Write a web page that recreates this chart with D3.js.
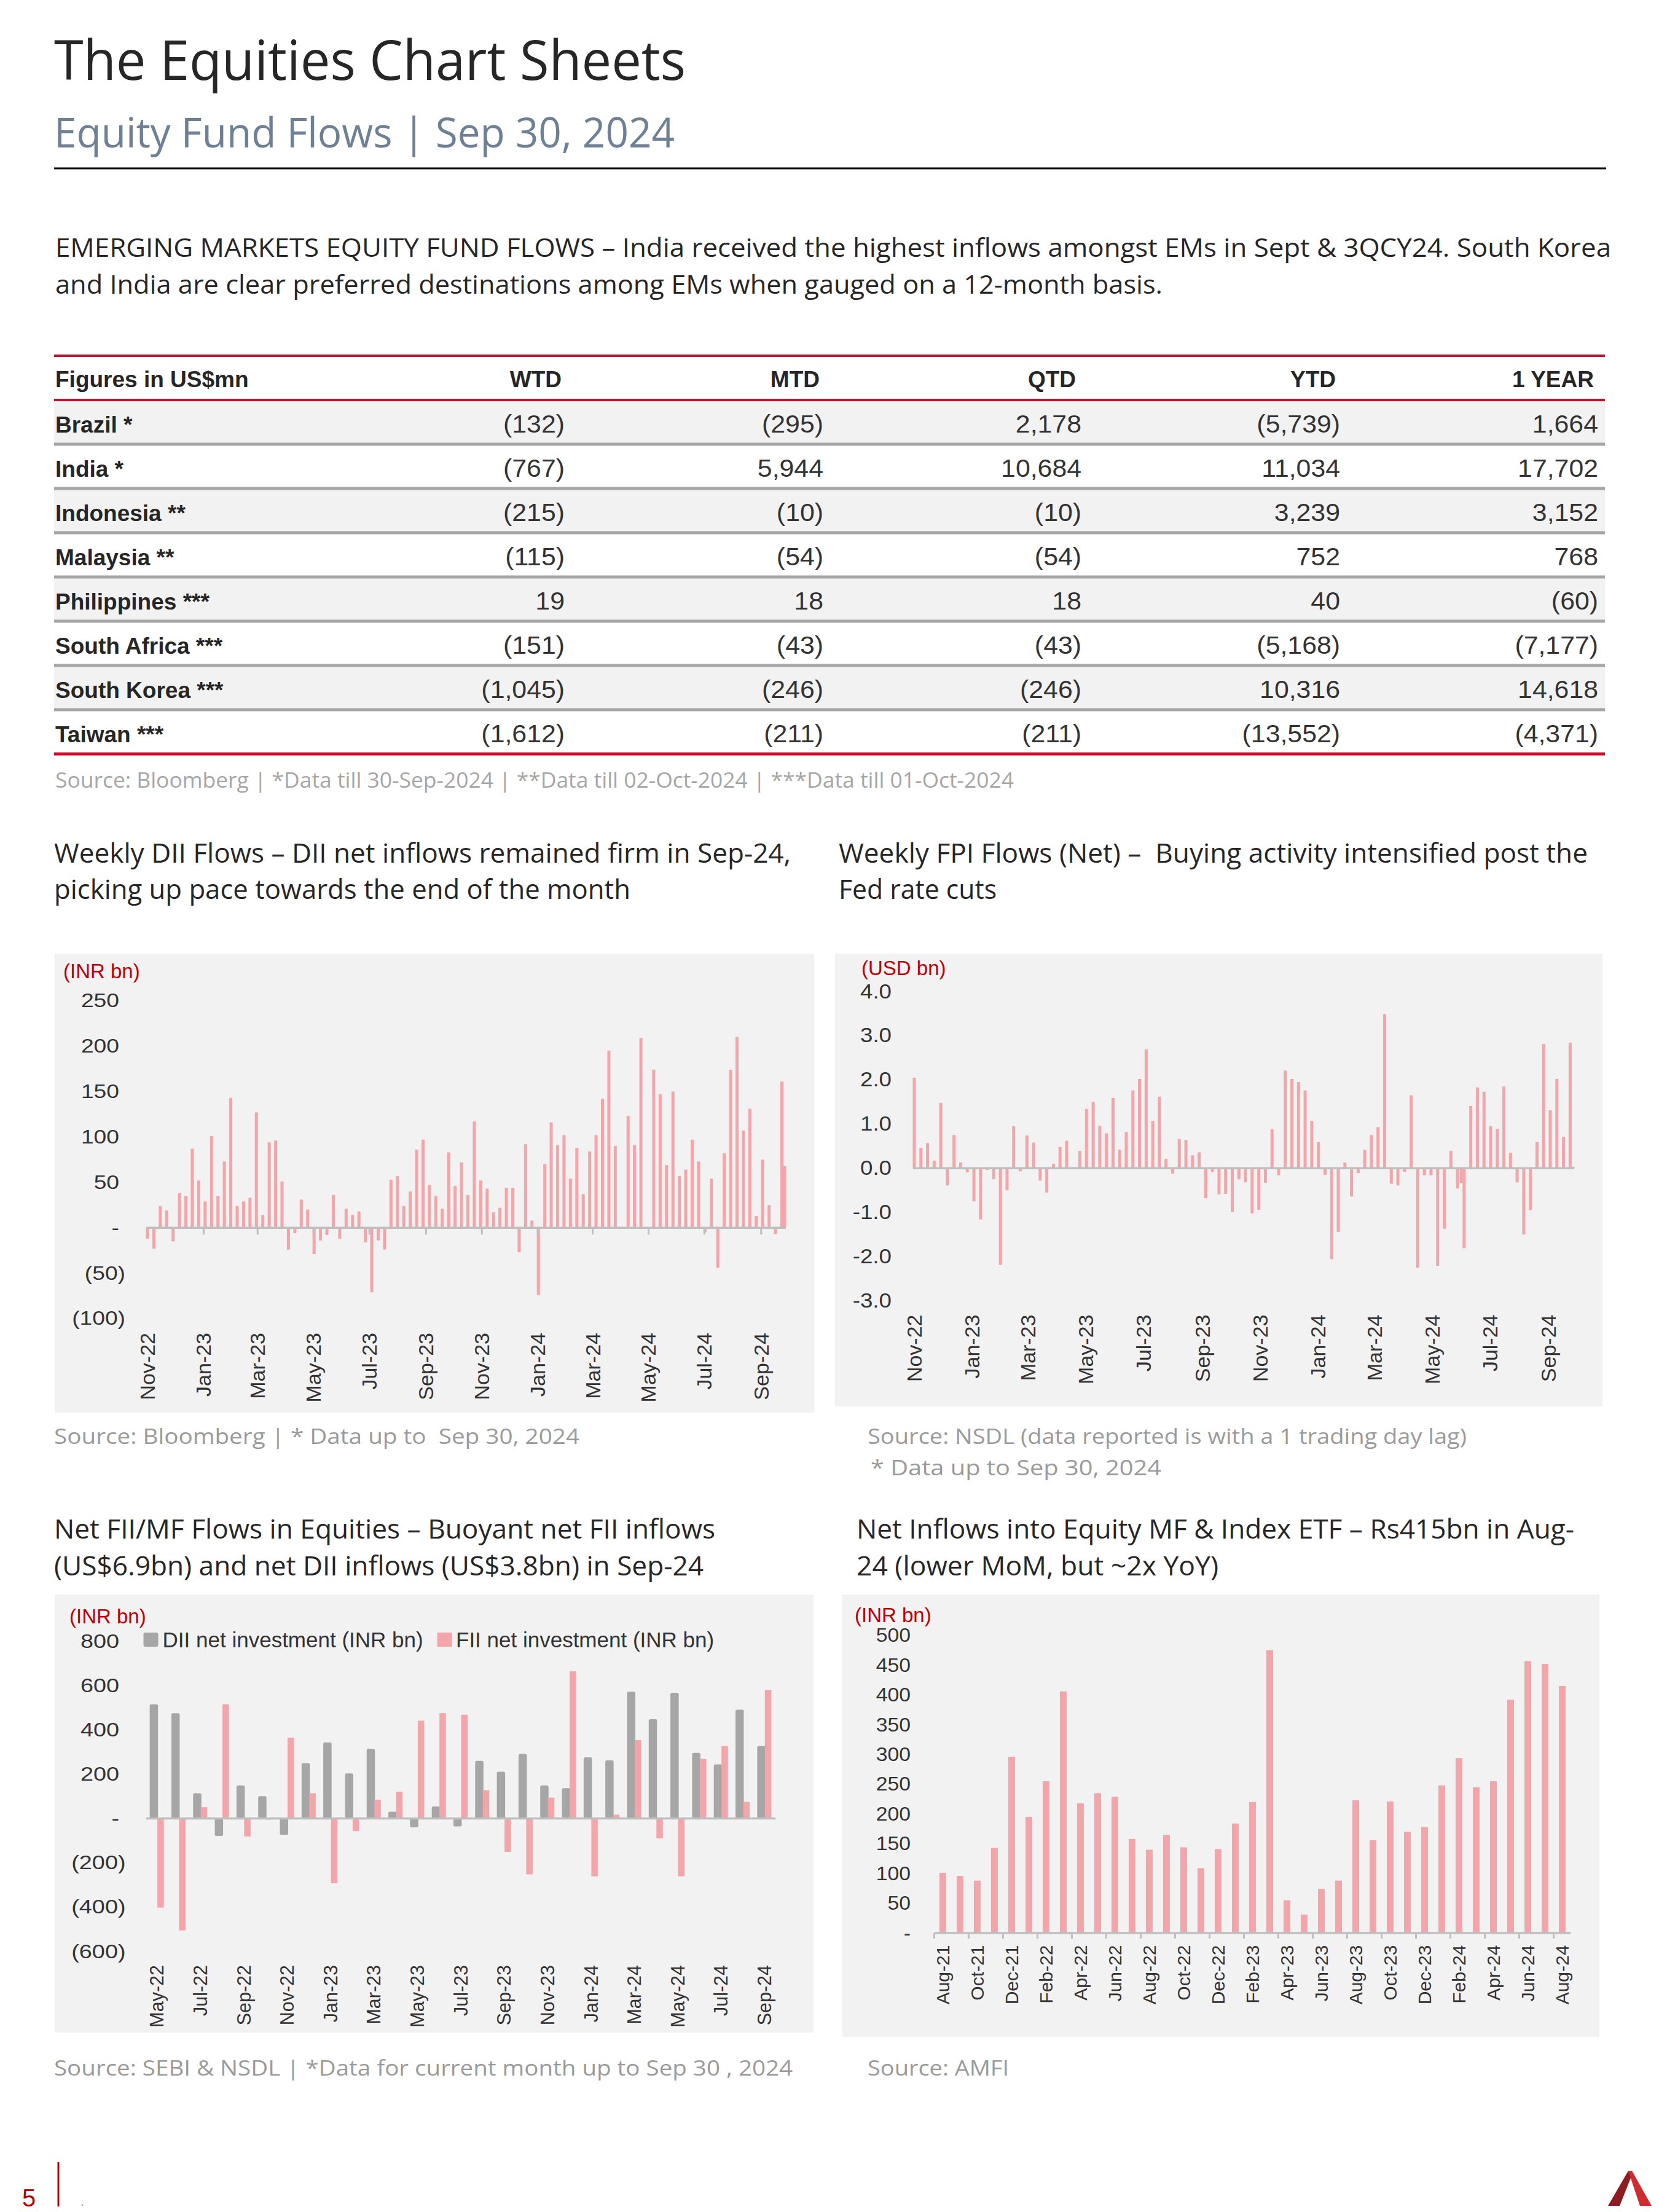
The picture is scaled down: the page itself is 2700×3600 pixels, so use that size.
<!DOCTYPE html>
<html>
<head>
<meta charset="utf-8">
<title>Equity Fund Flows</title>
<script src="https://cdn.jsdelivr.net/npm/d3@7/dist/d3.min.js"></script>
<style>
  body { margin: 0; background: #fff; }
  text { white-space: pre; }
</style>
</head>
<body>
<script>
// ---------- data ----------
var tableColumns = ["WTD", "MTD", "QTD", "YTD", "1 YEAR"];
var tableRows = ["Brazil *", "India *", "Indonesia **", "Malaysia **", "Philippines ***",
                 "South Africa ***", "South Korea ***", "Taiwan ***"];
var tableValues = [
    [-132, -295, 2178, -5739, 1664],
    [-767, 5944, 10684, 11034, 17702],
    [-215, -10, -10, 3239, 3152],
    [-115, -54, -54, 752, 768],
    [19, 18, 18, 40, -60],
    [-151, -43, -43, -5168, -7177],
    [-1045, -246, -246, 10316, 14618],
    [-1612, -211, -211, -13552, -4371]
];

// weekly series: Fridays from 4-Nov-22 to 27-Sep-24 plus the odd extra dates
var weeklyFirstFriday = "2022-11-04";
var weeklyLastFriday = "2024-09-27";
var diiExtraDates = ["2024-09-30"];
var fpiExtraDates = ["2024-06-04", "2024-09-30"];
var weeklyTickLabels = ["Nov-22", "Jan-23", "Mar-23", "May-23", "Jul-23", "Sep-23",
                        "Nov-23", "Jan-24", "Mar-24", "May-24", "Jul-24", "Sep-24"];

var diiWeeklyValues = [
    -12, -23, 24, 19, -15, 38, 35, 87, 52, 29,
    101, 35, 73, 143, 24, 29, 33, 127, 14, 94,
    96, 51, -24, -6, 31, 20, -29, -14, -8, 36,
    -12, 21, 14, 18, -16, -71, -14, -24, 53, 57,
    24, 40, 86, 97, 47, 35, 21, 83, 46, 72,
    36, 117, 52, 43, 17, 22, 44, 44, -27, 92,
    8, -74, 70, 116, 91, 102, 54, 88, 37, 84,
    102, 142, 195, 90, 1, 123, 91, 209, 0, 174,
    147, 69, 150, 57, 64, 97, 73, -5, 54, -44,
    82, 174, 210, 107, 131, 13, 75, 25, -7, 161,
    68
];

var fpiWeeklyValues = [
    2.05, 0.46, 0.57, 0.17, 1.48, -0.39, 0.75, 0.13, -0.09, -0.75,
    -1.16, -0.04, -0.25, -2.19, -0.50, 0.95, -0.07, 0.74, 0.58, -0.28,
    -0.55, 0.10, 0.48, 0.62, -0.02, 0.39, 1.34, 1.50, 0.96, 0.79,
    1.59, 0.42, 0.82, 1.76, 2.02, 2.69, 1.07, 1.62, 0.21, -0.12,
    0.66, 0.64, 0.29, 0.36, -0.68, -0.09, -0.59, -0.58, -0.99, -0.25,
    -0.32, -1.02, -0.94, -0.33, 0.88, -0.16, 2.21, 2.02, 1.95, 1.76,
    1.07, 0.59, -0.15, -2.06, -1.44, 0.13, -0.64, -0.11, 0.41, 0.75,
    0.93, 3.49, -0.35, -0.39, -0.08, 1.65, -2.25, -0.16, -0.16, -2.21,
    -1.37, 0.39, -0.46, -0.33, -1.81, 1.41, 1.83, 1.73, 0.95, 0.89,
    1.85, 0.35, -0.32, -1.50, -0.95, 0.59, 2.81, 1.31, 2.02, 0.71,
    2.84, 0.03
];

var flowMonths = ["May-22", "Jun-22", "Jul-22", "Aug-22", "Sep-22", "Oct-22", "Nov-22", "Dec-22",
                  "Jan-23", "Feb-23", "Mar-23", "Apr-23", "May-23", "Jun-23", "Jul-23", "Aug-23",
                  "Sep-23", "Oct-23", "Nov-23", "Dec-23", "Jan-24", "Feb-24", "Mar-24", "Apr-24",
                  "May-24", "Jun-24", "Jul-24", "Aug-24", "Sep-24"];
var diiMonthly = [515, 475, 114, -79, 149, 101, -73, 250, 343, 203, 314, 31, -40, 54, -36, 260,
                  211, 291, 149, 137, 276, 262, 572, 448, 567, 296, 244, 491, 327];
var fiiMonthly = [-402, -505, 51, 515, -81, -5, 365, 114, -292, -57, 85, 121, 441, 475, 468, 128,
                  -151, -252, 94, 664, -261, 17, 354, -90, -261, 269, 327, 75, 580];
var flowLegend = ["DII net investment (INR bn)", "FII net investment (INR bn)"];

var mfMonths = ["Aug-21", "Sep-21", "Oct-21", "Nov-21", "Dec-21", "Jan-22", "Feb-22", "Mar-22",
                "Apr-22", "May-22", "Jun-22", "Jul-22", "Aug-22", "Sep-22", "Oct-22", "Nov-22",
                "Dec-22", "Jan-23", "Feb-23", "Mar-23", "Apr-23", "May-23", "Jun-23", "Jul-23",
                "Aug-23", "Sep-23", "Oct-23", "Nov-23", "Dec-23", "Jan-24", "Feb-24", "Mar-24",
                "Apr-24", "May-24", "Jun-24", "Jul-24", "Aug-24"];
var mfInflows = [101, 96, 88, 143, 296, 195, 255, 406, 218, 235, 229, 158, 140, 165, 144, 109,
                 141, 184, 220, 475, 55, 31, 74, 88, 223, 156, 221, 170, 178, 248, 294, 245,
                 255, 392, 457, 452, 415];

var diiYTicks = [-100, -50, 0, 50, 100, 150, 200, 250];
var fpiYTicks = [-3, -2, -1, 0, 1, 2, 3, 4];
var flowYTicks = [-600, -400, -200, 0, 200, 400, 600, 800];
var mfYTicks = [0, 50, 100, 150, 200, 250, 300, 350, 400, 450, 500];

// ---------- page ----------
var SANS = "'Liberation Sans', Arial, sans-serif";
var BODY = "'Open Sans', 'Noto Sans', sans-serif";
var PINK = "#F4A5A9", GREYBAR = "#A6A6A6", AXIS = "#BFBFBF", RED = "#C00000", PANEL = "#F2F2F2";

var svg = d3.select("body").append("svg")
    .attr("width", 2700).attr("height", 3600).style("display", "block");
svg.append("rect").attr("width", 2700).attr("height", 3600).attr("fill", "#fff");

function addText(g, o) {
    var t = g.append("text")
        .attr("x", o.x).attr("y", o.y)
        .attr("font-family", o.font || BODY)
        .attr("font-size", o.size)
        .attr("fill", o.fill || "#262626")
        .attr("text-anchor", o.anchor || "start")
        .text(o.text);
    if (o.weight) t.attr("font-weight", o.weight);
    if (o.width) t.attr("textLength", o.width).attr("lengthAdjust", "spacingAndGlyphs");
    return t;
}

function stretchText(sel, k) {
    sel.each(function () {
        var w = this.getComputedTextLength();
        d3.select(this).attr("textLength", w * k).attr("lengthAdjust", "spacingAndGlyphs");
    });
}

function paren(v) {
    if (v === 0) return "-";
    return v < 0 ? "(" + d3.format(",")(-v) + ")" : d3.format(",")(v);
}
function oneDecimal(v) {
    return (v < 0 ? "-" : "") + Math.abs(v).toFixed(1);
}

// header
addText(svg, {x: 88, y: 130, size: 90, text: "The Equities Chart Sheets", width: 1028});
addText(svg, {x: 88, y: 240, size: 67, fill: "#6E8096", text: "Equity Fund Flows | Sep 30, 2024", width: 1010});
svg.append("line").attr("x1", 88).attr("x2", 2614).attr("y1", 274).attr("y2", 274)
    .attr("stroke", "#000").attr("stroke-width", 3);

addText(svg, {x: 90, y: 418, size: 42, width: 2532,
    text: "EMERGING MARKETS EQUITY FUND FLOWS – India received the highest inflows amongst EMs in Sept & 3QCY24. South Korea"});
addText(svg, {x: 90, y: 478, size: 42, width: 1802,
    text: "and India are clear preferred destinations among EMs when gauged on a 12-month basis."});

// ---------- table ----------
(function drawTable() {
    var g = svg.append("g");
    var left = 88, right = 2612;
    var numRight = [919, 1340, 1760, 2181, 2601];
    var headRight = [914, 1334, 1751, 2174, 2594];
    var rowY = d3.scaleBand().domain(tableRows).range([651, 651 + 72 * tableRows.length]);

    g.selectAll(".rowbg").data(tableRows.filter(function (d, i) { return i % 2 === 0; }))
        .enter().append("rect")
        .attr("x", left).attr("width", right - left)
        .attr("y", function (d) { return rowY(d); })
        .attr("height", rowY.bandwidth())
        .attr("fill", PANEL);

    g.selectAll(".sep").data(tableRows.slice(0, -1))
        .enter().append("line")
        .attr("x1", left).attr("x2", right)
        .attr("y1", function (d) { return rowY(d) + rowY.bandwidth(); })
        .attr("y2", function (d) { return rowY(d) + rowY.bandwidth(); })
        .attr("stroke", "#A6A6A6").attr("stroke-width", 5);

    [[579, 4], [651, 4], [651 + 72 * tableRows.length, 5]].forEach(function (l) {
        g.append("line").attr("x1", left).attr("x2", right).attr("y1", l[0]).attr("y2", l[0])
            .attr("stroke", "#C8102E").attr("stroke-width", l[1]);
    });

    addText(g, {x: 90, y: 630, size: 37, font: SANS, weight: "bold", text: "Figures in US$mn"});
    tableColumns.forEach(function (c, j) {
        addText(g, {x: headRight[j], y: 630, size: 37, font: SANS, weight: "bold", anchor: "end", text: c});
    });

    tableRows.forEach(function (r, i) {
        var base = rowY(r) + 53;
        addText(g, {x: 90, y: base, size: 37, font: SANS, weight: "bold", text: r});
        tableValues[i].forEach(function (v, j) {
            var t = addText(g, {x: numRight[j], y: base, size: 40, font: SANS, anchor: "end",
                fill: "#333", text: paren(v)});
            stretchText(t, 1.07);
        });
    });

    addText(g, {x: 90, y: 1282, size: 34, fill: "#A6A6A6", width: 1560,
        text: "Source: Bloomberg | *Data till 30-Sep-2024 | **Data till 02-Oct-2024 | ***Data till 01-Oct-2024"});
})();

// ---------- chart headings and sources ----------
[
    {x: 88, y: 1404, w: 1199, s: "Weekly DII Flows – DII net inflows remained firm in Sep-24,"},
    {x: 88, y: 1463, w: 938, s: "picking up pace towards the end of the month"},
    {x: 1365, y: 1404, w: 1219, s: "Weekly FPI Flows (Net) –  Buying activity intensified post the"},
    {x: 1365, y: 1463, w: 257, s: "Fed rate cuts"},
    {x: 88, y: 2504, w: 1076, s: "Net FII/MF Flows in Equities – Buoyant net FII inflows"},
    {x: 88, y: 2564, w: 1057, s: "(US$6.9bn) and net DII inflows (US$3.8bn) in Sep-24"},
    {x: 1394, y: 2504, w: 1168, s: "Net Inflows into Equity MF & Index ETF – Rs415bn in Aug-"},
    {x: 1394, y: 2564, w: 589, s: "24 (lower MoM, but ~2x YoY)"}
].forEach(function (h) {
    addText(svg, {x: h.x, y: h.y, size: 43, width: h.w, text: h.s});
});

[
    {x: 88, y: 2350, w: 855, s: "Source: Bloomberg | * Data up to  Sep 30, 2024"},
    {x: 1412, y: 2350, w: 975, s: "Source: NSDL (data reported is with a 1 trading day lag)"},
    {x: 1417, y: 2401, w: 473, s: "* Data up to Sep 30, 2024"},
    {x: 88, y: 3378, w: 1202, s: "Source: SEBI & NSDL | *Data for current month up to Sep 30 , 2024"},
    {x: 1412, y: 3378, w: 230, s: "Source: AMFI"}
].forEach(function (h) {
    addText(svg, {x: h.x, y: h.y, size: 34, fill: "#9A9A9A", width: h.w, text: h.s});
});

// ---------- chart helpers ----------
function drawFrame(c) {
    var g = svg.append("g");
    g.append("rect").attr("x", c.panel[0]).attr("y", c.panel[1])
        .attr("width", c.panel[2] - c.panel[0]).attr("height", c.panel[3] - c.panel[1])
        .attr("fill", PANEL);
    addText(g, {x: c.unitX, y: c.unitY, size: 33, font: SANS, fill: RED, text: c.unit});
    return g;
}

function drawYAxis(g, y, c) {
    var ya = g.append("g").attr("transform", "translate(" + c.yRight + ",0)")
        .call(d3.axisLeft(y).tickValues(c.yTicks).tickSize(0).tickPadding(0).tickFormat(c.yFormat));
    ya.select(".domain").remove();
    ya.attr("font-family", SANS).attr("font-size", c.yFont);
    ya.selectAll("text").attr("fill", "#333")
        .attr("x", function (d) { return d < 0 ? 0 : -c.posShift; });
    stretchText(ya.selectAll("text"), c.yStretch);
}

function drawXLabels(g, axis, c) {
    var xa = g.append("g").attr("transform", "translate(0," + c.labelTop + ")")
        .call(axis.tickSize(0).tickPadding(0));
    xa.select(".domain").remove();
    xa.attr("font-family", SANS).attr("font-size", c.labelFont);
    xa.selectAll("text")
        .attr("fill", "#333")
        .attr("transform", "rotate(-90)")
        .attr("x", 0).attr("y", 0).attr("dy", "0.35em")
        .style("text-anchor", "end");
}

function zeroLine(g, x0, x1, y0) {
    g.append("line").attr("x1", x0).attr("x2", x1).attr("y1", y0).attr("y2", y0)
        .attr("stroke", AXIS).attr("stroke-width", 3.5);
}

var parseDay = d3.timeParse("%Y-%m-%d");
var parseMonth = d3.timeParse("%b-%y");
var fridays = d3.timeFriday.range(parseDay(weeklyFirstFriday), d3.timeDay.offset(parseDay(weeklyLastFriday), 1));
var weeklyTickDates = weeklyTickLabels.map(function (m) { return d3.timeDay.offset(parseMonth(m), 3); });

function weeklyDates(extra) {
    return fridays.concat(extra.map(parseDay)).sort(d3.ascending);
}

function drawWeekly(c) {
    var g = drawFrame(c);
    var dates = weeklyDates(c.extra);
    var x = d3.scaleTime().domain([dates[0], dates[dates.length - 1]]).range(c.xRange);
    var y = d3.scaleLinear().domain(c.yDomain).range(c.yRange);
    var data = dates.map(function (d, i) { return {date: d, value: c.values[i]}; });

    g.selectAll(".bar").data(data).enter().append("rect")
        .attr("x", function (d) { return x(d.date) - 2.5; })
        .attr("width", 5)
        .attr("y", function (d) { return Math.min(y(d.value), y(0)); })
        .attr("height", function (d) { return Math.abs(y(d.value) - y(0)); })
        .attr("fill", PINK);

    zeroLine(g, c.xRange[0] - 2, c.xRange[1] + 2, y(0));
    if (c.tickLen) {
        var ta = g.append("g").attr("transform", "translate(0," + y(0) + ")")
            .call(d3.axisBottom(x).tickValues(weeklyTickDates.slice(1)).tickSize(c.tickLen).tickFormat(""));
        ta.select(".domain").remove();
        ta.selectAll("line").attr("stroke", AXIS).attr("stroke-width", 3);
    }
    drawYAxis(g, y, c);
    drawXLabels(g, d3.axisBottom(x).tickValues(weeklyTickDates)
        .tickFormat(function (d, i) { return weeklyTickLabels[i]; }), c);
}

// ---------- weekly DII ----------
drawWeekly({
    panel: [89, 1552, 1325, 2299], unit: "(INR bn)", unitX: 103, unitY: 1592,
    extra: diiExtraDates, values: diiWeeklyValues,
    xRange: [240, 1277], yDomain: [-100, 250], yRange: [2146, 1628.6],
    yTicks: diiYTicks, yFormat: paren, yRight: 204, posShift: 10, yFont: 31, yStretch: 1.2,
    labelTop: 2169, labelFont: 34, tickLen: 11
});

// ---------- weekly FPI ----------
drawWeekly({
    panel: [1359, 1552, 2608, 2289], unit: "(USD bn)", unitX: 1402, unitY: 1587,
    extra: fpiExtraDates, values: fpiWeeklyValues,
    xRange: [1488, 2560], yDomain: [-3, 4], yRange: [2117, 1613.6],
    yTicks: fpiYTicks, yFormat: oneDecimal, yRight: 1451, posShift: 0, yFont: 32.5, yStretch: 1.13,
    labelTop: 2139.5, labelFont: 34, tickLen: 0
});

// ---------- monthly FII / DII ----------
(function () {
    var c = {
        panel: [89, 2595, 1324, 3308], unit: "(INR bn)", unitX: 113, unitY: 2642,
        yTicks: flowYTicks, yFormat: paren, yRight: 204.5, posShift: 10.5, yFont: 31.5, yStretch: 1.2,
        labelTop: 3198, labelFont: 30.5
    };
    var g = drawFrame(c);
    var x = d3.scaleBand().domain(flowMonths).range([238, 1262]);
    var y = d3.scaleLinear().domain([-600, 800]).range([3176, 2671]);
    var mid = function (m) { return x(m) + x.bandwidth() / 2; };

    g.selectAll(".dii").data(flowMonths).enter().append("rect")
        .attr("x", function (m) { return mid(m) - 12; })
        .attr("width", 13.5)
        .attr("y", function (m, i) { return Math.min(y(diiMonthly[i]), y(0)); })
        .attr("height", function (m, i) { return Math.abs(y(diiMonthly[i]) - y(0)); })
        .attr("rx", 2.5)
        .attr("fill", GREYBAR);
    g.selectAll(".fii").data(flowMonths).enter().append("rect")
        .attr("x", function (m) { return mid(m) + 0.5; })
        .attr("width", 10.5)
        .attr("y", function (m, i) { return Math.min(y(fiiMonthly[i]), y(0)); })
        .attr("height", function (m, i) { return Math.abs(y(fiiMonthly[i]) - y(0)); })
        .attr("fill", PINK);

    zeroLine(g, x.range()[0], x.range()[1], y(0));
    drawYAxis(g, y, c);
    drawXLabels(g, d3.axisBottom(x).tickValues(flowMonths.filter(function (m, i) { return i % 2 === 0; })), c);

    // legend
    [[233.5, GREYBAR, 264.6], [711.6, PINK, 742]].forEach(function (l, i) {
        g.append("rect").attr("x", l[0]).attr("y", 2657).attr("width", 24).attr("height", 23)
            .attr("rx", i === 0 ? 3 : 0).attr("fill", l[1]);
        addText(g, {x: l[2], y: 2681, size: 35, font: SANS, fill: "#333", text: flowLegend[i]});
    });
})();

// ---------- monthly MF inflows ----------
(function () {
    var c = {
        panel: [1371, 2595, 2603, 3315], unit: "(INR bn)", unitX: 1391, unitY: 2640,
        yTicks: mfYTicks, yFormat: paren, yRight: 1482, posShift: 0, yFont: 31.5, yStretch: 1.07,
        labelTop: 3165.6, labelFont: 30
    };
    var g = drawFrame(c);
    var x = d3.scaleBand().domain(mfMonths).range([1520.4, 2556.5]);
    var y = d3.scaleLinear().domain([0, 500]).range([3146, 2661.6]);

    g.selectAll(".mf").data(mfMonths).enter().append("rect")
        .attr("x", function (m) { return x(m) + x.bandwidth() / 2 - 5.5; })
        .attr("width", 11)
        .attr("y", function (m, i) { return y(mfInflows[i]); })
        .attr("height", function (m, i) { return y(0) - y(mfInflows[i]); })
        .attr("fill", PINK);

    zeroLine(g, x.range()[0], x.range()[1], y(0));
    var evenMonths = mfMonths.filter(function (m, i) { return i % 2 === 0; });
    var ta = g.append("g").attr("transform", "translate(0," + y(0) + ")")
        .call(d3.axisBottom(x).tickValues(evenMonths).tickSize(9).tickFormat(""));
    ta.select(".domain").remove();
    ta.selectAll("line").attr("stroke", AXIS).attr("stroke-width", 3)
        .attr("x1", -x.bandwidth() / 2).attr("x2", -x.bandwidth() / 2);
    drawYAxis(g, y, c);
    drawXLabels(g, d3.axisBottom(x).tickValues(evenMonths), c);
})();

// ---------- footer ----------
addText(svg, {x: 36, y: 3591, size: 40, font: SANS, fill: RED, text: "5"});
svg.append("line").attr("x1", 95).attr("x2", 95).attr("y1", 3519).attr("y2", 3591)
    .attr("stroke", RED).attr("stroke-width", 3);
addText(svg, {x: 131, y: 3590, size: 22, font: SANS, fill: "#999", text: "."});
svg.append("polygon").attr("points", "2617,3590 2636,3590 2655,3542 2650,3533").attr("fill", "#8E1B20");
svg.append("polygon").attr("points", "2650,3533 2656,3533 2688,3590 2669,3590").attr("fill", "#D12A2F");
</script>
</body>
</html>
